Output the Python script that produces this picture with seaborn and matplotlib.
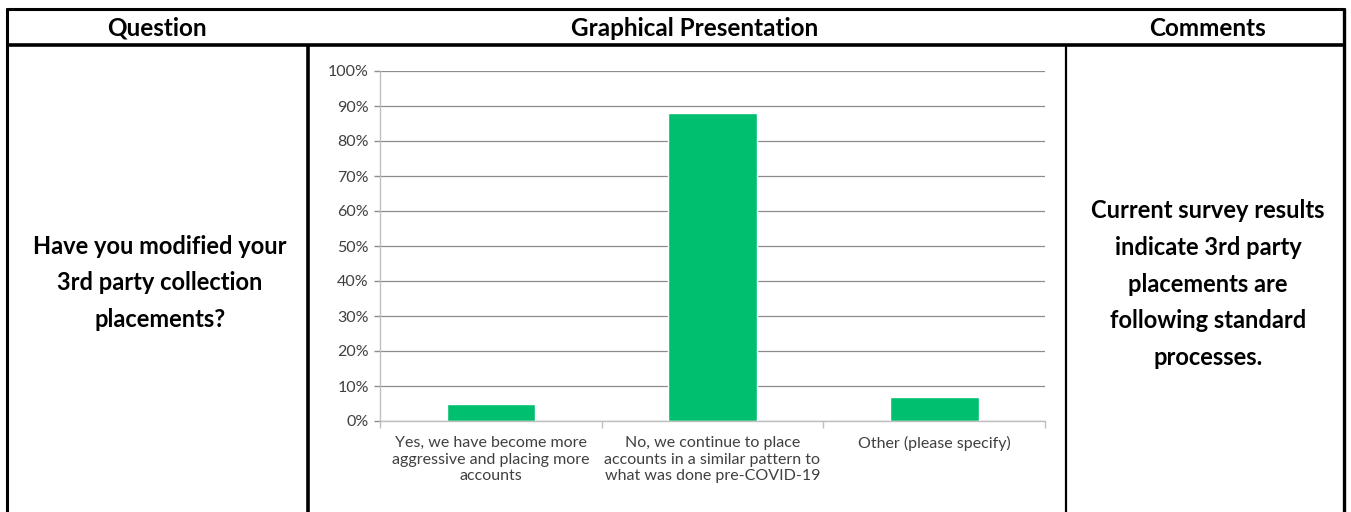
import matplotlib
matplotlib.use("Agg")
import matplotlib.pyplot as plt
from matplotlib.lines import Line2D
from matplotlib.ticker import PercentFormatter, FixedLocator
import seaborn as sns
import pandas as pd

# Survey answers and share of respondents
categories = [
    "Yes, we have become more\naggressive and placing more\naccounts",
    "No, we continue to place\naccounts in a similar pattern to\nwhat was done pre-COVID-19",
    "Other (please specify)",
]
shares = [0.05, 0.88, 0.07]
y_ticks = [0.0, 0.1, 0.2, 0.3, 0.4, 0.5, 0.6, 0.7, 0.8, 0.9, 1.0]

headers = ["Question", "Graphical Presentation", "Comments"]
question = "Have you modified your\n3rd party collection\nplacements?"
comment = ("Current survey results\nindicate 3rd party\nplacements are\n"
           "following standard\nprocesses.")

sns.set_theme(style="white")
plt.rcParams["font.family"] = ["Lato", "DejaVu Sans"]

W, H = 1351, 512
fig = plt.figure(figsize=(W / 100, H / 100), dpi=100)
fig.patch.set_facecolor("white")


def fx(px):
    return px / W


def fy(py):
    return 1 - py / H


def hline(x0, x1, y, lw):
    fig.add_artist(Line2D([fx(x0), fx(x1)], [fy(y), fy(y)], color="black",
                          lw=lw, transform=fig.transFigure, solid_capstyle="butt"))


def vline(x, y0, y1, lw):
    fig.add_artist(Line2D([fx(x), fx(x)], [fy(y0), fy(y1)], color="black",
                          lw=lw, transform=fig.transFigure, solid_capstyle="butt"))


# Table frame
hline(6, 1345, 9, 2.2)
hline(6, 1345, 45, 2.6)
vline(7, 8, 512, 2.2)
vline(1344, 8, 512, 2.4)
vline(308, 45, 512, 2.6)
vline(1066, 46, 512, 1.6)

# Header row
for text, cx in zip(headers, [157, 695, 1207]):
    fig.text(fx(cx), fy(28), text, ha="center", va="center",
             fontsize=17.5, fontweight="bold", color="black")

fig.text(fx(160), fy(283), question, ha="center", va="center",
         fontsize=17, fontweight="bold", color="black", linespacing=1.72)
fig.text(fx(1208), fy(284), comment, ha="center", va="center",
         fontsize=17, fontweight="bold", color="black", linespacing=1.72)

# Bar chart
ax = fig.add_axes([fx(380), fy(421), fx(1045) - fx(380), fy(71) - fy(421)])
df = pd.DataFrame({"answer": categories, "share": shares})
sns.barplot(data=df, x="answer", y="share", color="#00BF6F", width=0.4,
            saturation=1, ax=ax)
ax.set_xlim(-0.5, 2.5)
ax.set_ylim(0, 1)
ax.set_yticks(y_ticks)
ax.yaxis.set_major_formatter(PercentFormatter(1.0, decimals=0))
ax.yaxis.grid(True, color="#8C8C8C", lw=0.9)
ax.set_axisbelow(True)
ax.set_xlabel("")
ax.set_ylabel("")
for side in ["top", "right"]:
    ax.spines[side].set_visible(False)
for side in ["left", "bottom"]:
    ax.spines[side].set_color("#BFBFBF")
    ax.spines[side].set_linewidth(1.0)
ax.tick_params(axis="y", which="major", left=True, length=4, width=1,
               color="#8C8C8C", labelsize=11.5, labelcolor="#404040", pad=4)
ax.tick_params(axis="x", which="major", length=0, labelsize=11.5,
               labelcolor="#404040", pad=11)
ax.xaxis.set_minor_locator(FixedLocator([-0.5, 0.5, 1.5, 2.5]))
ax.tick_params(axis="x", which="minor", bottom=True, length=5, width=1,
               color="#BFBFBF")
for lbl in ax.get_xticklabels():
    lbl.set_linespacing(1.22)

fig.savefig("out.png", dpi=100, facecolor="white")
